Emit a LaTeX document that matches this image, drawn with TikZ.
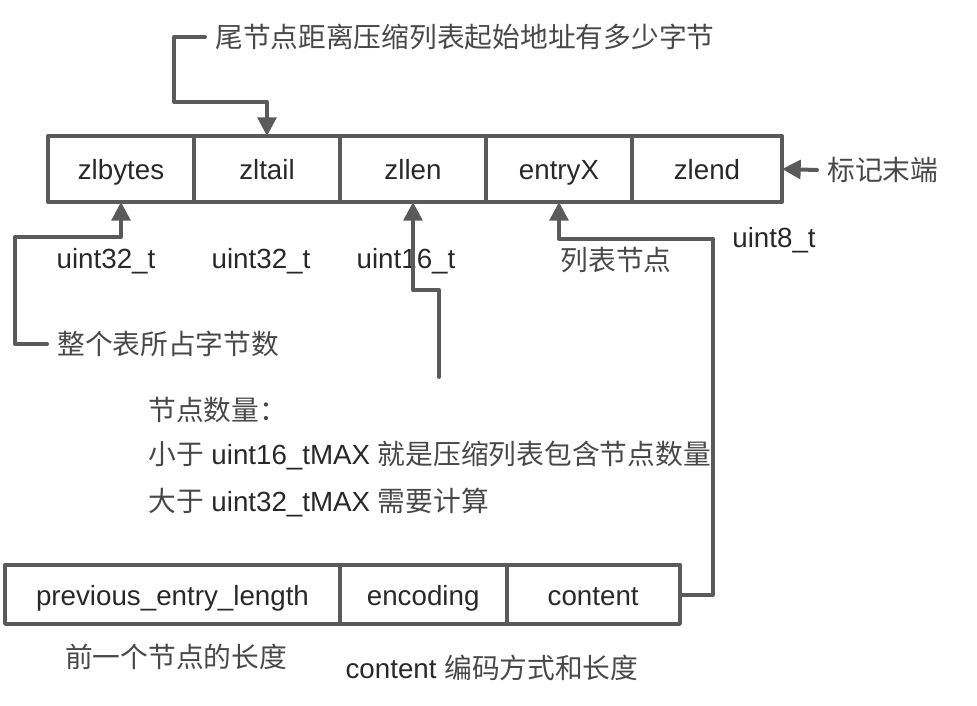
\documentclass[tikz,border=0pt]{standalone}
\usepackage{fontspec}
\setmainfont{Liberation Sans}
\newfontfamily\cjk{Noto Sans CJK SC}
\usetikzlibrary{positioning,arrows.meta}
\definecolor{linegray}{RGB}{90,90,90}
\definecolor{textgray}{RGB}{40,40,40}
\newcommand\zh[1]{{\cjk\color{textgray!85!white}#1}}
\begin{document}
\begin{tikzpicture}[x=.75pt,y=-.75pt,line cap=round,line join=round,
  font=\fontsize{20.8}{25}\selectfont,text=textgray,
  field/.style={draw=linegray,line width=3pt,outer sep=0pt,inner sep=0pt,minimum height=49.5pt,
    text height=18pt,text depth=1.5pt},
  note/.style={inner sep=7.5pt,anchor=west},
  arr/.style={draw=linegray,line width=3pt,-{Triangle[length=14pt,width=14pt]}}]
  \useasboundingbox (0,0) rectangle (977,706);
  % ziplist header
  \node[field,minimum width=109.5pt] (zlbytes) at (121,169) {zlbytes};
  \node[field,minimum width=109.5pt,right=0pt of zlbytes] (zltail) {zltail};
  \node[field,minimum width=109.5pt,right=0pt of zltail] (zllen) {zllen};
  \node[field,minimum width=109.5pt,right=0pt of zllen] (entryX) {entryX};
  \node[field,minimum width=112.5pt,right=0pt of entryX] (zlend) {zlend};
  \node (t1) at (106,261) {uint32\_t}; \node (t2) at (261,261) {uint32\_t};
  \node (t3) at (406,261) {uint16\_t}; \node (t4) at (616,260) {\zh{列表节点}};
  \node (t5) at (774,240) {uint8\_t};
  % entry
  \node[field,minimum width=251pt,minimum height=44pt] (prevlen) at (172.5,594.5) {previous\_entry\_length};
  \node[field,minimum width=125pt,minimum height=44pt,right=0pt of prevlen] (encoding) {encoding};
  \node[field,minimum width=130pt,minimum height=44pt,right=0pt of encoding] (content) {content};
  \node (prevtxt) at (176,657) {\zh{前一个节点的长度}};
  \node (enctxt) at (492,668) {content \zh{编码方式和长度}};
  % notes
  \node[note] (tailtxt) at (205,37) {\zh{尾节点距离压缩列表起始地址有多少字节}};
  \node[note] (bytestxt) at (47,344) {\zh{整个表所占字节数}};
  \node[note] (endtxt) at (817,170) {\zh{标记末端}};
  \node[anchor=west,inner sep=0pt] (lentxt1) at (148,410) {\zh{节点数量：}};
  \node[anchor=west,inner sep=0pt] (lentxt2) at (148,456) {\zh{小于} uint16\_tMAX \zh{就是压缩列表包含节点数量}};
  \node[anchor=west,inner sep=0pt] (lentxt3) at (148,503) {\zh{大于} uint32\_tMAX \zh{需要计算}};
  \coordinate (lenend) at (439,377);
  \draw[arr] (tailtxt.west) -- ++(-31,0) -- ++(0,65) -| (zltail.north);
  \draw[arr] (bytestxt.west) -- ++(-32,0) -- ++(0,-107) -| (zlbytes.south);
  \draw[arr] (lenend) -- ++(0,-87) -| (zllen.south);
  \draw[arr] (content.east) -- ++(33,0) -- ++(0,-356) -| (entryX.south);
  \draw[arr] (endtxt.west) -- (zlend.east);
\end{tikzpicture}
\end{document}
